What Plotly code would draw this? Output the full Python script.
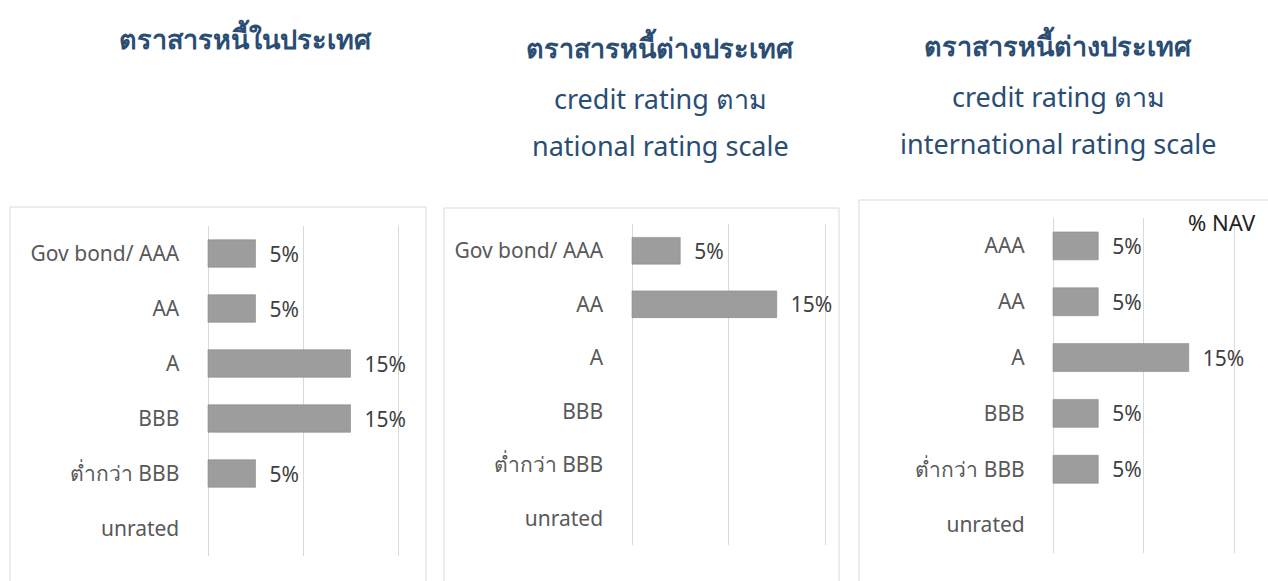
import plotly.graph_objects as go

W, H = 1268, 581

categories_domestic = ["Gov bond/ AAA", "AA", "A", "BBB", "ต่ำกว่า BBB", "unrated"]
values_domestic = [5, 5, 15, 15, 5, None]

categories_foreign_nat = ["Gov bond/ AAA", "AA", "A", "BBB", "ต่ำกว่า BBB", "unrated"]
values_foreign_nat = [5, 15, None, None, None, None]

categories_foreign_intl = ["AAA", "AA", "A", "BBB", "ต่ำกว่า BBB", "unrated"]
values_foreign_intl = [5, 5, 15, 5, 5, None]

titles = [
    ["<b>ตราสารหนี้ในประเทศ</b>"],
    ["<b>ตราสารหนี้ต่างประเทศ</b>", "credit rating ตาม", "national rating scale"],
    ["<b>ตราสารหนี้ต่างประเทศ</b>", "credit rating ตาม", "international rating scale"],
]

FONT = "Noto Sans, Open Sans, DejaVu Sans, sans-serif"
TITLE_COLOR = "#2a4d74"
BAR_COLOR = "#9d9d9d"
GRID = "#d9d9d9"
PAD = 1.0  # axis units of padding on each side so edge gridlines are drawn

def px_x(p):
    return p / W

def px_y(p):
    return 1 - p / H

panels = [
    dict(cats=categories_domestic, vals=values_domestic,
         xd=(208, 398), yd=(226, 556), box=(10, 207, 426, 585), title_x=245, title_y=[38]),
    dict(cats=categories_foreign_nat, vals=values_foreign_nat,
         xd=(632, 825), yd=(224, 545), box=(444, 208, 839, 585), title_x=660, title_y=[47, 98, 146]),
    dict(cats=categories_foreign_intl, vals=values_foreign_intl,
         xd=(1053, 1234), yd=(218, 553), box=(859, 200, 1270, 585), title_x=1058, title_y=[45, 96, 143]),
]

fig = go.Figure()
shapes = []
annotations = []
layout_axes = {}

for i, p in enumerate(panels):
    n = "" if i == 0 else str(i + 1)
    xa, ya = "x" + n, "y" + n
    texts = ["\u00a0\u00a0" + f"{v}%" if v is not None else "" for v in p["vals"]]
    fig.add_trace(go.Bar(
        x=p["vals"], y=p["cats"], orientation="h",
        xaxis=xa, yaxis=ya,
        marker=dict(color=BAR_COLOR, line=dict(color="#8a8a8a", width=0.6)),
        width=0.5,
        text=texts, textposition="outside", cliponaxis=False, constraintext="none",
        textfont=dict(family=FONT, size=21, color="#404040"),
        showlegend=False, hoverinfo="skip",
    ))
    x0, x1 = p["xd"]
    unit = (x1 - x0) / 20.0
    layout_axes["xaxis" + n] = dict(
        domain=[px_x(x0 - PAD * unit), px_x(x1 + PAD * unit)], range=[-PAD, 20 + PAD], anchor=ya,
        showgrid=True, gridcolor=GRID, gridwidth=1, tick0=0, dtick=10,
        zeroline=True, zerolinecolor=GRID, zerolinewidth=1,
        showticklabels=False, showline=False, fixedrange=True,
    )
    layout_axes["yaxis" + n] = dict(
        domain=[px_y(p["yd"][1]), px_y(p["yd"][0])], anchor=xa,
        categoryorder="array", categoryarray=p["cats"], autorange="reversed",
        showgrid=False, zeroline=False, showline=False,
        ticks="outside", ticklen=int(24 - PAD * unit), tickcolor="rgba(0,0,0,0)",
        tickfont=dict(family=FONT, size=21, color="#595959"),
        fixedrange=True,
    )
    bx0, by0, bx1, by1 = p["box"]
    shapes.append(dict(type="rect", xref="paper", yref="paper",
                       x0=px_x(bx0), x1=px_x(bx1), y0=px_y(by1), y1=px_y(by0),
                       line=dict(color="#d9d9d9", width=1), fillcolor="rgba(0,0,0,0)", layer="below"))
    for j, t in enumerate(titles[i]):
        annotations.append(dict(
            text=t, xref="paper", yref="paper", x=px_x(p["title_x"]), y=px_y(p["title_y"][j]),
            xanchor="center", yanchor="middle", showarrow=False,
            font=dict(family=FONT, size=27, color=TITLE_COLOR),
        ))

annotations.append(dict(
    text="% NAV", xref="paper", yref="paper", x=px_x(1258), y=px_y(222),
    xanchor="right", yanchor="middle", showarrow=False,
    font=dict(family=FONT, size=22, color="#222222"),
))

fig.update_layout(
    width=W, height=H,
    margin=dict(l=0, r=0, t=0, b=0),
    paper_bgcolor="white", plot_bgcolor="white",
    shapes=shapes, annotations=annotations,
    bargap=0.5,
    **layout_axes,
)

fig.write_html("out.html", config={"displayModeBar": False},
               post_script="document.body.style.margin='0';document.body.style.overflow='hidden';")
